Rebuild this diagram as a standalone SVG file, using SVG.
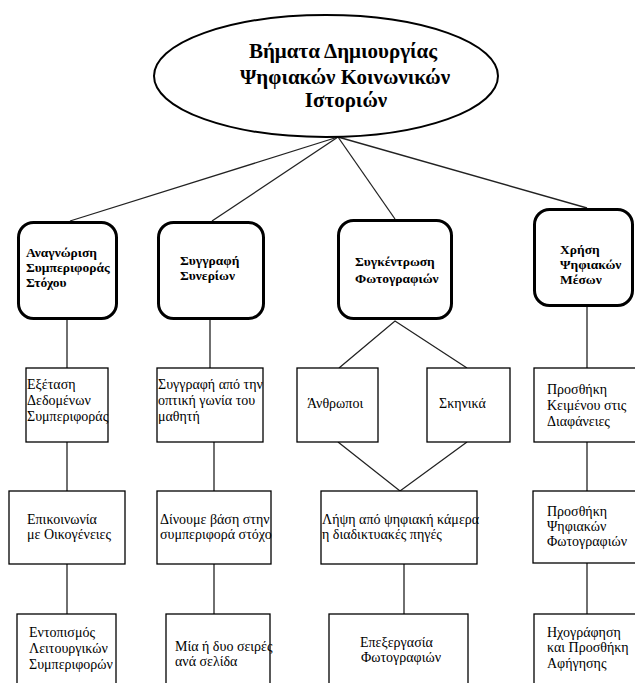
<svg xmlns="http://www.w3.org/2000/svg" width="635" height="683" viewBox="0 0 635 683">
<style>
.bg{fill:#fff}
.rb{fill:#fff;stroke:#000;stroke-width:3}
.sb{fill:#fff;stroke:#000;stroke-width:1.3}
.ln{stroke:#222;stroke-width:1.3;fill:none}
.t{font-family:"Liberation Serif","DejaVu Serif",serif;font-size:14px;fill:#000}
.b{font-family:"Liberation Serif","DejaVu Serif",serif;font-size:13.5px;font-weight:bold;fill:#000}
.h{font-family:"Liberation Serif","DejaVu Serif",serif;font-size:21px;font-weight:bold;fill:#000;text-anchor:middle}
</style>
<rect class="bg" x="0" y="0" width="635" height="683"/>
<g id="connectors">
<line class="ln" x1="338" y1="137" x2="70" y2="221"/>
<line class="ln" x1="338" y1="137" x2="212" y2="221"/>
<line class="ln" x1="338" y1="137" x2="395" y2="219"/>
<line class="ln" x1="338" y1="137" x2="587" y2="208"/>
<line class="ln" x1="67" y1="320" x2="67" y2="368"/>
<line class="ln" x1="67" y1="442" x2="67" y2="491"/>
<line class="ln" x1="67" y1="564" x2="67" y2="614"/>
<line class="ln" x1="210" y1="320" x2="210" y2="368"/>
<line class="ln" x1="214" y1="442" x2="214" y2="491"/>
<line class="ln" x1="214" y1="564" x2="214" y2="614"/>
<polyline class="ln" points="339,368 395,321 467,368"/>
<polyline class="ln" points="338,442 400,491 467,442"/>
<line class="ln" x1="404" y1="564" x2="404" y2="614"/>
<line class="ln" x1="587" y1="307" x2="587" y2="368"/>
<line class="ln" x1="587" y1="442" x2="587" y2="491"/>
<line class="ln" x1="587" y1="563" x2="587" y2="614"/>
</g>
<g id="root">
<ellipse cx="326" cy="76" rx="172" ry="61" fill="#fff" stroke="#000" stroke-width="2"/>
<text class="h" x="343" y="58">Βήματα Δημιουργίας</text>
<text class="h" x="345" y="84">Ψηφιακών Κοινωνικών</text>
<text class="h" x="346" y="107">Ιστοριών</text>
</g>
<g id="n1">
<rect class="rb" x="18.5" y="222.5" width="98" height="96" rx="15"/>
<text class="b" x="26" y="257">Αναγνώριση</text>
<text class="b" x="26" y="272">Συμπεριφοράς</text>
<text class="b" x="26" y="287">Στόχου</text>
</g>
<g id="n2">
<rect class="rb" x="158.5" y="222.5" width="105" height="96" rx="15"/>
<text class="b" x="180" y="265">Συγγραφή</text>
<text class="b" x="180" y="280">Συνερίων</text>
</g>
<g id="n3">
<rect class="rb" x="338.5" y="220.5" width="113" height="98" rx="15"/>
<text class="b" x="355" y="266">Συγκέντρωση</text>
<text class="b" x="355" y="283">Φωτογραφιών</text>
</g>
<g id="n4">
<rect class="rb" x="534.5" y="209.5" width="98" height="96" rx="15"/>
<text class="b" x="560" y="254">Χρήση</text>
<text class="b" x="560" y="269">Ψηφιακών</text>
<text class="b" x="560" y="284">Μέσων</text>
</g>
<g id="n1a">
<rect class="sb" x="26" y="368" width="82" height="74"/>
<text class="t" x="27" y="389">Εξέταση</text>
<text class="t" x="27" y="405">Δεδομένων</text>
<text class="t" x="27" y="421">Συμπεριφοράς</text>
</g>
<g id="n2a">
<rect class="sb" x="157" y="368" width="106" height="74"/>
<text class="t" x="158" y="389">Συγγραφή από την</text>
<text class="t" x="158" y="405">οπτική γωνία του</text>
<text class="t" x="158" y="421">μαθητή</text>
</g>
<g id="n3a">
<rect class="sb" x="297" y="368" width="81" height="74"/>
<text class="t" x="307" y="408">Άνθρωποι</text>
</g>
<g id="n3b">
<rect class="sb" x="427" y="368" width="83" height="74"/>
<text class="t" x="439" y="408">Σκηνικά</text>
</g>
<g id="n4a">
<rect class="sb" x="534" y="368" width="104" height="74"/>
<text class="t" x="547" y="394">Προσθήκη</text>
<text class="t" x="547" y="410">Κειμένου στις</text>
<text class="t" x="547" y="426">Διαφάνειες</text>
</g>
<g id="n1b">
<rect class="sb" x="9" y="491" width="116" height="73"/>
<text class="t" x="27" y="524">Επικοινωνία</text>
<text class="t" x="27" y="539">με Οικογένειες</text>
</g>
<g id="n2b">
<rect class="sb" x="157" y="491" width="114" height="73"/>
<text class="t" x="160" y="524">Δίνουμε βάση στην</text>
<text class="t" x="160" y="539">συμπεριφορά στόχο</text>
</g>
<g id="n3c">
<rect class="sb" x="321" y="491" width="156" height="73"/>
<text class="t" x="322" y="524">Λήψη από ψηφιακή κάμερα</text>
<text class="t" x="322" y="539">η διαδικτυακές πηγές</text>
</g>
<g id="n4b">
<rect class="sb" x="533" y="491" width="105" height="72"/>
<text class="t" x="547" y="516">Προσθήκη</text>
<text class="t" x="547" y="531">Ψηφιακών</text>
<text class="t" x="547" y="546">Φωτογραφιών</text>
</g>
<g id="n1c">
<rect class="sb" x="17" y="614" width="99" height="80"/>
<text class="t" x="29" y="637">Εντοπισμός</text>
<text class="t" x="29" y="653">Λειτουργικών</text>
<text class="t" x="29" y="669">Συμπεριφορών</text>
</g>
<g id="n2c">
<rect class="sb" x="166" y="614" width="104" height="80"/>
<text class="t" x="175" y="651">Μία ή δυο σειρές</text>
<text class="t" x="175" y="666">ανά σελίδα</text>
</g>
<g id="n3d">
<rect class="sb" x="329" y="614" width="139" height="80"/>
<text class="t" x="360" y="647">Επεξεργασία</text>
<text class="t" x="361" y="662">Φωτογραφιών</text>
</g>
<g id="n4c">
<rect class="sb" x="534" y="614" width="104" height="80"/>
<text class="t" x="547" y="637">Ηχογράφηση</text>
<text class="t" x="547" y="652">και Προσθήκη</text>
<text class="t" x="547" y="668">Αφήγησης</text>
</g>
</svg>
